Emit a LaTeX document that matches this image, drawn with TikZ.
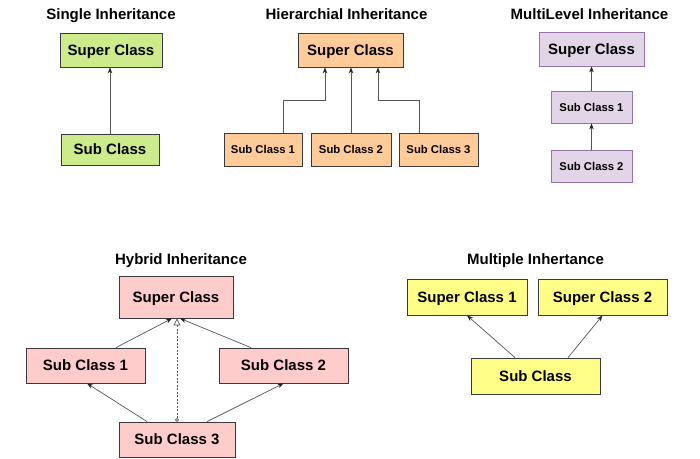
\documentclass[tikz,border=0pt]{standalone}
\usepackage{fontspec}
\setmainfont{Liberation Sans}
\usetikzlibrary{arrows.meta}
\definecolor{cgreen}{HTML}{CDEB8B}
\definecolor{corange}{HTML}{FFCC99}
\definecolor{cpurple}{HTML}{E1D5E7}
\definecolor{cpurpleb}{HTML}{9673A6}
\definecolor{cpink}{HTML}{FFCCCC}
\definecolor{cyellow}{HTML}{FFFF88}
\definecolor{cborder}{HTML}{36393D}
\definecolor{cline}{HTML}{555555}
\tikzset{
  box/.style={draw=cborder, line width=0.8pt, inner sep=0pt, text depth=0pt, font=\fontsize{15}{18}\selectfont\bfseries},
  smallbox/.style={box, font=\fontsize{11.3}{13}\selectfont\bfseries},
  title/.style={inner sep=0pt, text depth=0pt, font=\fontsize{15}{18}\selectfont\bfseries},
  arr/.style={draw=cline, line width=0.7pt, -{Stealth[length=6pt,width=4.5pt,color=black!85]}},
  dasharr/.style={draw=cline, line width=0.7pt, dash pattern=on 2pt off 1.5pt,
     {Circle[open,length=3.5pt,width=3.5pt,fill=white]}-{Triangle[open,length=7pt,width=7pt,fill=white]}},
}
\begin{document}
\begin{tikzpicture}[x=1pt,y=-1pt]
\useasboundingbox[fill=white] (0,0) rectangle (700,458);

% Titles
\node[title] (t1) at (111,14) {Single Inheritance};
\node[title] (t2) at (346.5,14) {Hierarchial Inheritance};
\node[title] (t3) at (589.5,14) {MultiLevel Inheritance};
\node[title] (t4) at (181,259) {Hybrid Inheritance};
\node[title] (t5) at (535.5,259) {Multiple Inhertance};

% Single
\node[box, fill=cgreen, minimum width=102pt, minimum height=34pt] (s1sup) at (111,50) {Super Class};
\node[box, fill=cgreen, minimum width=98pt, minimum height=31pt] (s1sub) at (110,149.5) {Sub Class};
\draw[arr] (s1sub.north) -- (s1sub.north |- s1sup.south);

% Hierarchical
\node[box, fill=corange, minimum width=105pt, minimum height=34pt] (hsup) at (350.5,50) {Super Class};
\node[smallbox, fill=corange, minimum width=78pt, minimum height=33pt] (hs1) at (263,149.5) {Sub Class 1};
\node[smallbox, fill=corange, minimum width=80pt, minimum height=33pt] (hs2) at (351,149.5) {Sub Class 2};
\node[smallbox, fill=corange, minimum width=79pt, minimum height=33pt] (hs3) at (438.5,149.5) {Sub Class 3};
\coordinate (h1a) at ([xshift=-25.5pt]hsup.south);
\coordinate (h3a) at ([xshift=27.5pt]hsup.south);
\draw[arr] ([xshift=20pt]hs1.north) -- ++(0,-32) -| (h1a);
\draw[arr] (hs2.north) -- (hs2.north |- hsup.south);
\draw[arr] ([xshift=-19.5pt]hs3.north) -- ++(0,-32) -| (h3a);

% MultiLevel
\node[box, fill=cpurple, draw=cpurpleb, minimum width=105pt, minimum height=34pt] (msup) at (591.5,49) {Super Class};
\node[smallbox, fill=cpurple, draw=cpurpleb, minimum width=81pt, minimum height=32pt] (ms1) at (591.5,107) {Sub Class 1};
\node[smallbox, fill=cpurple, draw=cpurpleb, minimum width=81pt, minimum height=32pt] (ms2) at (591.5,166) {Sub Class 2};
\draw[arr] (ms1.north) -- (msup.south);
\draw[arr] (ms2.north) -- (ms1.south);

% Hybrid
\node[box, fill=cpink, minimum width=114pt, minimum height=42pt] (ysup) at (176,297) {Super Class};
\node[box, fill=cpink, minimum width=119pt, minimum height=35pt] (ys1) at (85.5,365.5) {Sub Class 1};
\node[box, fill=cpink, minimum width=129pt, minimum height=35pt] (ys2) at (283.5,365.5) {Sub Class 2};
\node[box, fill=cpink, minimum width=116pt, minimum height=35pt] (ys3) at (177,439.5) {Sub Class 3};
\draw[arr] ([xshift=30.5pt]ys1.north) -- ([xshift=-4pt]ysup.south);
\draw[arr] ([xshift=-32.5pt]ys2.north) -- ([xshift=4pt]ysup.south);
\draw[arr] ([xshift=-30pt]ys3.north) -- ([xshift=1.5pt]ys1.south);
\draw[arr] ([xshift=30pt]ys3.north) -- (ys2.south);
\draw[dasharr] (ys3.north) -- (ys3.north |- ysup.south);

% Multiple
\node[box, fill=cyellow, minimum width=120pt, minimum height=36pt] (psup1) at (467,297) {Super Class 1};
\node[box, fill=cyellow, minimum width=129pt, minimum height=36pt] (psup2) at (602.5,297) {Super Class 2};
\node[box, fill=cyellow, minimum width=129pt, minimum height=36pt] (psub) at (535.5,376) {Sub Class};
\draw[arr] ([xshift=-20.5pt]psub.north) -- (psup1.south);
\draw[arr] ([xshift=32.5pt]psub.north) -- (psup2.south);
\end{tikzpicture}
\end{document}
